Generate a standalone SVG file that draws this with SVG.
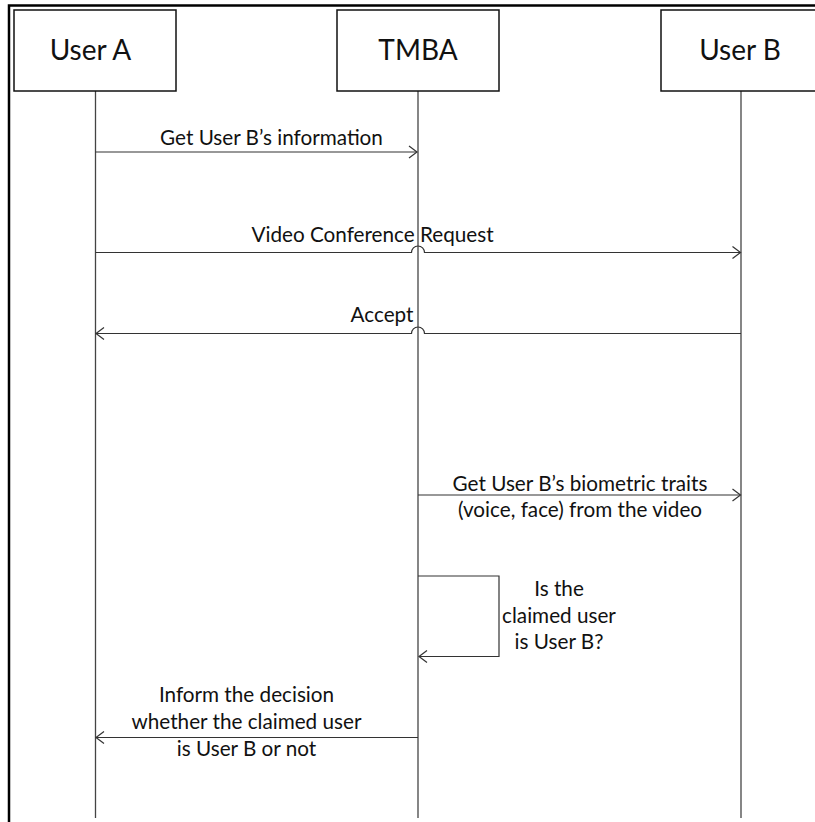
<svg xmlns="http://www.w3.org/2000/svg" width="815" height="822" viewBox="0 0 815 822">
  <style>
    .frame { fill: none; stroke: #000; stroke-width: 2.5; }
    .box { fill: #fff; stroke: #111; stroke-width: 1.5; }
    .life { fill: none; stroke: #444; stroke-width: 1.3; }
    .msg { fill: none; stroke: #333; stroke-width: 1.2; marker-end: url(#open); }
    .title { font-family: Lato, "Liberation Sans", sans-serif; font-size: 28px; fill: #111; text-anchor: middle; }
    .lbl { font-family: Lato, "Liberation Sans", sans-serif; font-size: 20.7px; fill: #111; text-anchor: middle; }
  </style>
  <defs>
    <marker id="open" markerUnits="userSpaceOnUse" markerWidth="10" markerHeight="14" refX="8" refY="6" orient="auto" overflow="visible">
      <path d="M0,0 L8,6 L0,12" fill="none" stroke="#333" stroke-width="1.2"/>
    </marker>
  </defs>

  <rect width="815" height="822" fill="#fff"/>
  <rect class="frame" x="9" y="5.5" width="820" height="830"/>

  <!-- lifelines -->
  <g id="lifelines">
    <line class="life" x1="95.5" y1="91" x2="95.5" y2="818"/>
    <line class="life" x1="418" y1="91" x2="418" y2="818"/>
    <line class="life" x1="741" y1="91" x2="741" y2="818"/>
  </g>

  <g id="user-a">
    <rect class="box" x="14" y="10" width="162" height="81"/>
    <text class="title" x="90.5" y="60">User A</text>
  </g>
  <g id="tmba">
    <rect class="box" x="337" y="10" width="162" height="81"/>
    <text class="title" x="418" y="60">TMBA</text>
  </g>
  <g id="user-b">
    <rect class="box" x="661" y="10" width="162" height="81"/>
    <text class="title" x="740" y="60">User B</text>
  </g>

  <!-- messages -->
  <g id="connectors">
    <path class="msg" d="M95.5,152 H417"/>
    <path class="msg" d="M95.5,252.5 H411.5 A6.5,6.5 0 0 1 424.5,252.5 H740.5"/>
    <path class="msg" d="M741,333.5 H424.5 A6.5,6.5 0 0 0 411.5,333.5 H96"/>
    <path class="msg" d="M418,495 H740.5"/>
    <path class="msg" d="M418,576 H499 V656.5 H419"/>
    <path class="msg" d="M418,737.5 H96"/>
  </g>

  <g id="labels">
    <text class="lbl" x="271.5" y="145">Get User B’s information</text>
    <text class="lbl" x="372.5" y="241.5">Video Conference Request</text>
    <text class="lbl" x="382" y="322">Accept</text>
    <text class="lbl" x="580" y="490.5">Get User B’s biometric traits</text>
    <text class="lbl" x="580" y="517">(voice, face) from the video</text>
    <text class="lbl" x="559" y="596">Is the</text>
    <text class="lbl" x="559" y="622.5">claimed user</text>
    <text class="lbl" x="559" y="649">is User B?</text>
    <text class="lbl" x="246.5" y="701.5">Inform the decision</text>
    <text class="lbl" x="246.5" y="728.5">whether the claimed user</text>
    <text class="lbl" x="246.5" y="756">is User B or not</text>
  </g>
</svg>
